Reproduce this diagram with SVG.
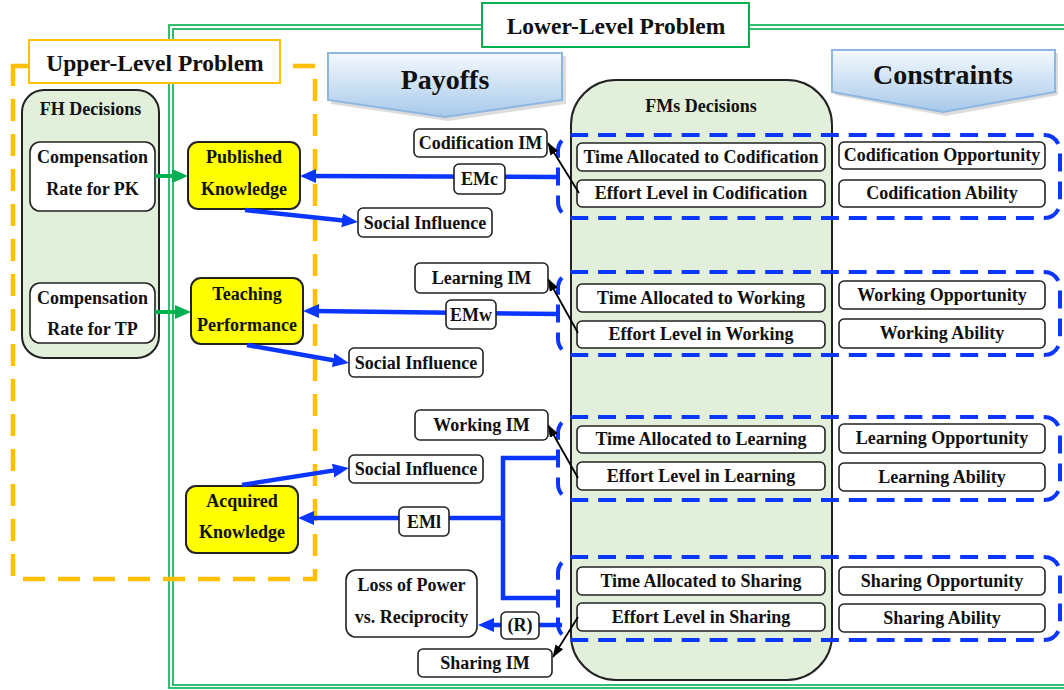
<svg xmlns="http://www.w3.org/2000/svg" width="1064" height="690" viewBox="0 0 1064 690">
<defs>
<style>
text { font-family: "Liberation Serif", "Times New Roman", serif; font-weight: bold; fill: #111; text-anchor: middle; }
.t18 { font-size: 18px; }
.hd { font-size: 23.5px; }
.big { font-size: 28px; }
.box { fill: #fff; stroke: #222; stroke-width: 1.6; }
.yel { fill: #FFFF00; stroke: #222; stroke-width: 2; }
.grp { fill: #E2EFDA; stroke: #222; stroke-width: 2; }
.blue { stroke: #0A36FF; stroke-width: 4.5; fill: none; }
.dash { stroke: #0A36FF; stroke-width: 4; fill: none; stroke-dasharray: 18 10; }
.blk { stroke: #000; stroke-width: 1.8; fill: none; }
.grn { stroke: #00B050; stroke-width: 4; fill: none; }
.frame { stroke: #00B050; stroke-width: 1.6; fill: none; }
.orng { stroke: #FFC000; stroke-width: 4.5; fill: none; stroke-dasharray: 22 13; }
.bann { fill: url(#bannG); stroke: #8DB6E0; stroke-width: 2; }
.shd { fill: #9a9a9a; opacity: 0.35; }
</style>
<linearGradient id="bannG" x1="0" y1="0" x2="0" y2="1">
<stop offset="0" stop-color="#F4F9FE"/>
<stop offset="1" stop-color="#A7C9EA"/>
</linearGradient>
<marker id="ab" markerUnits="userSpaceOnUse" markerWidth="18" markerHeight="16" refX="6" refY="8" orient="auto">
<path d="M0,1 L16,8 L0,15 Z" fill="#0A36FF"/>
</marker>
<marker id="ag" markerUnits="userSpaceOnUse" markerWidth="18" markerHeight="16" refX="6" refY="8" orient="auto">
<path d="M0,1 L16,8 L0,15 Z" fill="#00B050"/>
</marker>
<marker id="ak" markerUnits="userSpaceOnUse" markerWidth="14" markerHeight="10" refX="12" refY="5" orient="auto">
<path d="M0,0.5 L13,5 L0,9.5 Z" fill="#000"/>
</marker>
</defs>
<rect width="1064" height="690" fill="#fff"/>

<!-- frames -->
<g id="lower-frame">
<rect class="frame" x="169" y="25" width="905" height="663"/>
<rect class="frame" x="173" y="29" width="900" height="656"/>
</g>
<g id="upper-frame">
<rect class="orng" x="13" y="66" width="302" height="513"/>
</g>
<g id="lower-label">
<rect x="482" y="3" width="267" height="44" fill="#fff" stroke="#00B050" stroke-width="2"/>
<text class="hd" x="616" y="34">Lower-Level Problem</text>
</g>
<g id="upper-label">
<rect x="29" y="40" width="251" height="43" fill="#fff" stroke="#FFC000" stroke-width="2"/>
<text class="hd" x="155" y="71">Upper-Level Problem</text>
</g>

<!-- banners -->
<g id="payoffs">
<path class="shd" d="M331,56 L566,56 L566,104 L448,121 L331,104 Z"/>
<path class="bann" d="M328,53 L562,53 L562,100 L445,117 L328,100 Z"/>
<text class="big" x="445" y="89">Payoffs</text>
</g>
<g id="constraints">
<path class="shd" d="M835,53 L1058,53 L1058,95 L946,116 L835,95 Z"/>
<path class="bann" d="M832,50 L1055,50 L1055,92 L943,112 L832,92 Z"/>
<text class="big" x="943" y="84">Constraints</text>
</g>

<!-- FH decisions -->
<g id="fh-decisions">
<rect class="grp" x="22" y="90" width="137" height="268" rx="22"/>
<text class="t18" x="90.5" y="115">FH Decisions</text>
</g>
<g id="comp-pk">
<rect class="box" x="30" y="142" width="125" height="69" rx="10"/>
<text class="t18" x="92.5" y="163">Compensation</text>
<text class="t18" x="92.5" y="195">Rate for PK</text>
</g>
<g id="comp-tp">
<rect class="box" x="30" y="283" width="125" height="60" rx="10"/>
<text class="t18" x="92.5" y="304">Compensation</text>
<text class="t18" x="92.5" y="335">Rate for TP</text>
</g>

<!-- yellow outcomes -->
<g id="published-knowledge">
<rect class="yel" x="188" y="142" width="112" height="67" rx="10"/>
<text class="t18" x="244" y="163">Published</text>
<text class="t18" x="244" y="195">Knowledge</text>
</g>
<g id="teaching-performance">
<rect class="yel" x="191" y="278" width="112" height="66" rx="10"/>
<text class="t18" x="247" y="300">Teaching</text>
<text class="t18" x="247" y="331">Performance</text>
</g>
<g id="acquired-knowledge">
<rect class="yel" x="186" y="486" width="112" height="67" rx="10"/>
<text class="t18" x="242" y="507">Acquired</text>
<text class="t18" x="242" y="538">Knowledge</text>
</g>

<!-- FMs decisions -->
<g id="fms-decisions">
<rect class="grp" x="571" y="80" width="261" height="600" rx="45"/>
<text class="t18" x="701" y="112">FMs Decisions</text>
</g>

<!-- dashed groups -->
<g id="group-codification">
<path class="dash" pathLength="1148" d="M558,185.5 V151 A16,16 0 0 1 574,135 H1044 A16,16 0 0 1 1060,151 V202 A16,16 0 0 1 1044,218 H574 A16,16 0 0 1 558,202 Z"/>
</g>
<g id="group-working">
<path class="dash" pathLength="1148" d="M558,322.5 V288 A16,16 0 0 1 574,272 H1044 A16,16 0 0 1 1060,288 V339 A16,16 0 0 1 1044,355 H574 A16,16 0 0 1 558,339 Z"/>
</g>
<g id="group-learning">
<path class="dash" pathLength="1148" d="M558,467.5 V433 A16,16 0 0 1 574,417 H1044 A16,16 0 0 1 1060,433 V484 A16,16 0 0 1 1044,500 H574 A16,16 0 0 1 558,484 Z"/>
</g>
<g id="group-sharing">
<path class="dash" pathLength="1148" d="M558,607.5 V573 A16,16 0 0 1 574,557 H1044 A16,16 0 0 1 1060,573 V624 A16,16 0 0 1 1044,640 H574 A16,16 0 0 1 558,624 Z"/>
</g>

<!-- decision boxes -->
<g id="time-codification"><rect class="box" x="577" y="143" width="248" height="28" rx="5"/><text class="t18" x="701" y="163">Time Allocated to Codification</text></g>
<g id="effort-codification"><rect class="box" x="577" y="180" width="248" height="27" rx="5"/><text class="t18" x="701" y="199">Effort Level in Codification</text></g>
<g id="opp-codification"><rect class="box" x="839" y="142" width="206" height="27" rx="5"/><text class="t18" x="942" y="161">Codification Opportunity</text></g>
<g id="abil-codification"><rect class="box" x="839" y="180" width="206" height="27" rx="5"/><text class="t18" x="942" y="199">Codification Ability</text></g>

<g id="time-working"><rect class="box" x="577" y="284" width="248" height="28" rx="5"/><text class="t18" x="701" y="304">Time Allocated to Working</text></g>
<g id="effort-working"><rect class="box" x="577" y="321" width="248" height="27" rx="5"/><text class="t18" x="701" y="340">Effort Level in Working</text></g>
<g id="opp-working"><rect class="box" x="839" y="281" width="206" height="28" rx="5"/><text class="t18" x="942" y="301">Working Opportunity</text></g>
<g id="abil-working"><rect class="box" x="839" y="319" width="206" height="29" rx="5"/><text class="t18" x="942" y="339">Working Ability</text></g>

<g id="time-learning"><rect class="box" x="577" y="426" width="248" height="27" rx="5"/><text class="t18" x="701" y="445">Time Allocated to Learning</text></g>
<g id="effort-learning"><rect class="box" x="577" y="462" width="248" height="28" rx="5"/><text class="t18" x="701" y="482">Effort Level in Learning</text></g>
<g id="opp-learning"><rect class="box" x="839" y="424" width="206" height="29" rx="5"/><text class="t18" x="942" y="444">Learning Opportunity</text></g>
<g id="abil-learning"><rect class="box" x="839" y="463" width="206" height="28" rx="5"/><text class="t18" x="942" y="483">Learning Ability</text></g>

<g id="time-sharing"><rect class="box" x="577" y="567" width="248" height="28" rx="5"/><text class="t18" x="701" y="587">Time Allocated to Sharing</text></g>
<g id="effort-sharing"><rect class="box" x="577" y="603" width="248" height="28" rx="5"/><text class="t18" x="701" y="623">Effort Level in Sharing</text></g>
<g id="opp-sharing"><rect class="box" x="839" y="567" width="206" height="28" rx="5"/><text class="t18" x="942" y="587">Sharing Opportunity</text></g>
<g id="abil-sharing"><rect class="box" x="839" y="604" width="206" height="28" rx="5"/><text class="t18" x="942" y="624">Sharing Ability</text></g>

<!-- connectors -->
<g id="connectors">
<line class="grn" x1="155" y1="176" x2="178" y2="176" marker-end="url(#ag)"/>
<line class="grn" x1="155" y1="312" x2="181" y2="312" marker-end="url(#ag)"/>

<line class="blue" x1="558" y1="177" x2="310" y2="176" marker-end="url(#ab)"/>
<line class="blue" x1="245" y1="210" x2="348" y2="221" marker-end="url(#ab)"/>
<line class="blue" x1="558" y1="314" x2="313" y2="311" marker-end="url(#ab)"/>
<line class="blue" x1="247" y1="345" x2="339" y2="361.3" marker-end="url(#ab)"/>
<line class="blue" x1="242" y1="485" x2="339" y2="469.6" marker-end="url(#ab)"/>
<path class="blue" d="M558,458 H503 V598 H558"/>
<line class="blue" x1="503" y1="518" x2="308" y2="518" marker-end="url(#ab)"/>
<line class="blue" x1="562" y1="625" x2="488" y2="625" marker-end="url(#ab)"/>

<line class="blk" x1="579" y1="193" x2="548" y2="143" marker-end="url(#ak)"/>
<line class="blk" x1="578" y1="333" x2="548" y2="279" marker-end="url(#ak)"/>
<line class="blk" x1="578" y1="478" x2="548" y2="425" marker-end="url(#ak)"/>
<line class="blk" x1="578" y1="617" x2="553" y2="657" marker-end="url(#ak)"/>
</g>

<!-- payoff / label boxes -->
<g id="codification-im"><rect class="box" x="414" y="129" width="133" height="28" rx="5"/><text class="t18" x="480.5" y="149">Codification IM</text></g>
<g id="emc"><rect class="box" x="454" y="164" width="51" height="30" rx="5"/><text class="t18" x="479.5" y="185">EMc</text></g>
<g id="social-influence-1"><rect class="box" x="358" y="208" width="134" height="29" rx="5"/><text class="t18" x="425" y="229">Social Influence</text></g>

<g id="learning-im"><rect class="box" x="415" y="263" width="133" height="30" rx="5"/><text class="t18" x="481.5" y="284">Learning IM</text></g>
<g id="emw"><rect class="box" x="446" y="300" width="50" height="29" rx="5"/><text class="t18" x="471" y="321">EMw</text></g>
<g id="social-influence-2"><rect class="box" x="349" y="348" width="134" height="29" rx="5"/><text class="t18" x="416" y="369">Social Influence</text></g>

<g id="working-im"><rect class="box" x="415" y="410" width="133" height="30" rx="5"/><text class="t18" x="481.5" y="431">Working IM</text></g>
<g id="social-influence-3"><rect class="box" x="349" y="455" width="134" height="28" rx="5"/><text class="t18" x="416" y="475">Social Influence</text></g>
<g id="eml"><rect class="box" x="399" y="507" width="50" height="29" rx="5"/><text class="t18" x="424" y="528">EMl</text></g>

<g id="loss-of-power"><rect class="box" x="346" y="570" width="131" height="67" rx="10"/><text class="t18" x="411.5" y="591">Loss of Power</text><text class="t18" x="411.5" y="623">vs. Reciprocity</text></g>
<g id="r-label"><rect class="box" x="501" y="612" width="38" height="27" rx="5"/><text class="t18" x="520" y="631">(R)</text></g>
<g id="sharing-im"><rect class="box" x="418" y="649" width="134" height="28" rx="5"/><text class="t18" x="485" y="669">Sharing IM</text></g>
</svg>
